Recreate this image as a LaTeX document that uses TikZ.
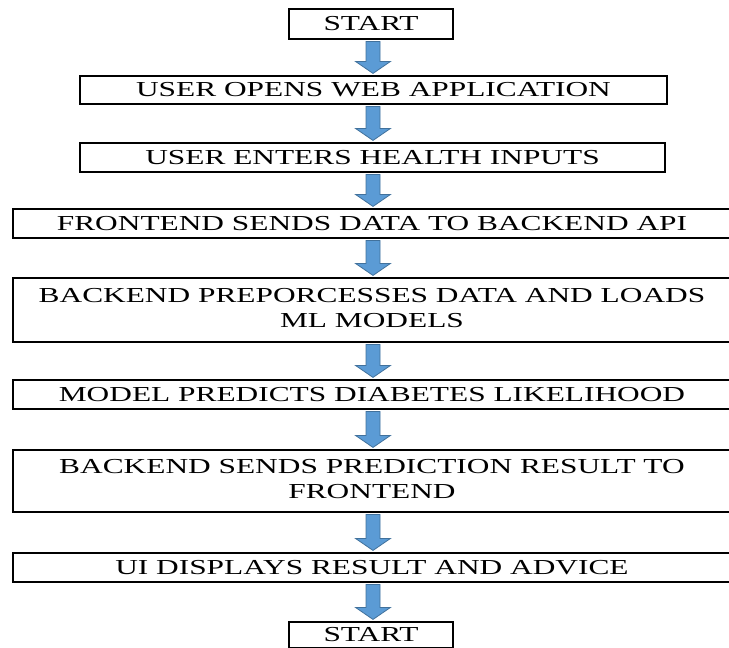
\documentclass[tikz,border=0pt]{standalone}
\usepackage{fontspec}
\setmainfont{Liberation Serif}
\usepackage{graphicx}
\usetikzlibrary{calc}
\definecolor{arrowfill}{HTML}{5B9BD5}
\definecolor{arrowline}{HTML}{41719C}
\newcommand{\wt}[1]{\scalebox{1.47}[1]{#1}}
\begin{document}
\begin{tikzpicture}[x=0.75pt,y=-0.75pt,
  box/.style={draw=black,line width=1.6pt,inner sep=0pt,align=center,
    font=\fontsize{16}{19}\selectfont},
  blockarrow/.style={draw=arrowline,fill=arrowfill,line width=0.6pt,line join=miter}]
\useasboundingbox (0,0) rectangle (729,648);
\coordinate (axis) at (373,0);
\newcommand{\flowarr}[2]{%
  \path (#1.south -| axis) ++(0,1.5) coordinate (ta);
  \path (#2.north -| axis) ++(0,-1.5) coordinate (tb);
  \draw[blockarrow] ($(ta)+(-7,0)$) -- ($(ta)+(7,0)$) -- ($(tb)+(7,-12)$) -- ($(tb)+(17.5,-12)$)
     -- (tb) -- ($(tb)+(-17.5,-12)$) -- ($(tb)+(-7,-12)$) -- cycle;}
\node[box,minimum width=164*0.75pt,minimum height=30*0.75pt] (s) at (371,24) {\wt{START}};
\node[box,minimum width=587*0.75pt,minimum height=28*0.75pt] (b2) at (373.5,90) {\wt{USER OPENS WEB APPLICATION}};
\node[box,minimum width=585*0.75pt,minimum height=29*0.75pt] (b3) at (372.5,157.5) {\wt{USER ENTERS HEALTH INPUTS}};
\node[box,minimum width=718*0.75pt,minimum height=29*0.75pt] (b4) at (372,223.5) {\wt{FRONTEND SENDS DATA TO BACKEND API}};
\node[box,minimum width=718*0.75pt,minimum height=64*0.75pt] (b5) at (372,310) {\raisebox{-2pt}{\wt{\begin{tabular}{@{}c@{}}BACKEND PREPORCESSES DATA AND LOADS\\ML MODELS\end{tabular}}}};
\node[box,minimum width=718*0.75pt,minimum height=29*0.75pt] (b6) at (372,394.5) {\wt{MODEL PREDICTS DIABETES LIKELIHOOD}};
\node[box,minimum width=718*0.75pt,minimum height=62*0.75pt] (b7) at (372,481) {\raisebox{-2pt}{\wt{\begin{tabular}{@{}c@{}}BACKEND SENDS PREDICTION RESULT TO\\FRONTEND\end{tabular}}}};
\node[box,minimum width=718*0.75pt,minimum height=29*0.75pt] (b8) at (372,567.5) {\wt{UI DISPLAYS RESULT AND ADVICE}};
\node[box,minimum width=164*0.75pt,minimum height=26*0.75pt] (e) at (371,635) {\wt{START}};
\flowarr{s}{b2}
\flowarr{b2}{b3}
\flowarr{b3}{b4}
\flowarr{b4}{b5}
\flowarr{b5}{b6}
\flowarr{b6}{b7}
\flowarr{b7}{b8}
\flowarr{b8}{e}
\end{tikzpicture}
\end{document}
